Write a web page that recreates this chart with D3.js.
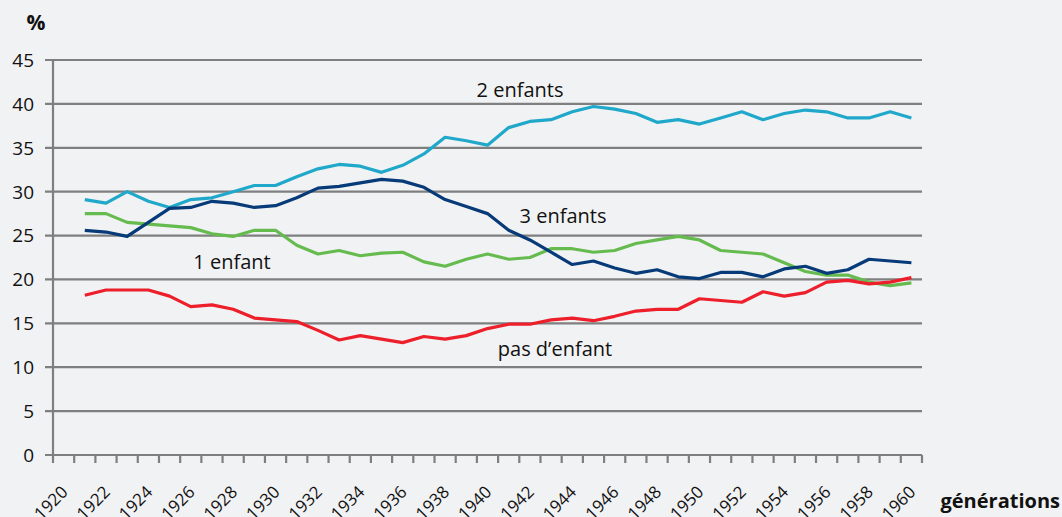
<!DOCTYPE html>
<html>
<head>
<meta charset="utf-8">
<script src="https://cdn.jsdelivr.net/npm/d3@7"></script>
<style>
  html, body { margin: 0; padding: 0; background: #f1f2f4; }
  svg { display: block; font-family: "Open Sans", "Noto Sans", sans-serif; }
</style>
</head>
<body>
<div id="chart"></div>
<script>
const years = d3.range(1920, 1961);
const dataYears = d3.range(1921, 1961);
const yTicks = [0, 5, 10, 15, 20, 25, 30, 35, 40, 45];

const deuxEnfants = [29.1, 28.7, 30.0, 28.9, 28.2, 29.1, 29.3, 30.0, 30.7, 30.7,
  31.7, 32.6, 33.1, 32.9, 32.2, 33.0, 34.3, 36.2, 35.8, 35.3,
  37.3, 38.0, 38.2, 39.1, 39.7, 39.4, 38.9, 37.9, 38.2, 37.7,
  38.4, 39.1, 38.2, 38.9, 39.3, 39.1, 38.4, 38.4, 39.1, 38.4];
const troisEnfants = [25.6, 25.4, 24.9, 26.5, 28.1, 28.2, 28.9, 28.7, 28.2, 28.4,
  29.3, 30.4, 30.6, 31.0, 31.4, 31.2, 30.5, 29.1, 28.3, 27.5,
  25.6, 24.5, 23.1, 21.7, 22.1, 21.3, 20.7, 21.1, 20.3, 20.1,
  20.8, 20.8, 20.3, 21.2, 21.5, 20.7, 21.1, 22.3, 22.1, 21.9];
const unEnfant = [27.5, 27.5, 26.5, 26.3, 26.1, 25.9, 25.2, 24.9, 25.6, 25.6,
  23.9, 22.9, 23.3, 22.7, 23.0, 23.1, 22.0, 21.5, 22.3, 22.9,
  22.3, 22.5, 23.5, 23.5, 23.1, 23.3, 24.1, 24.5, 24.9, 24.5,
  23.3, 23.1, 22.9, 21.9, 20.9, 20.5, 20.5, 19.7, 19.3, 19.6];
const pasEnfant = [18.2, 18.8, 18.8, 18.8, 18.1, 16.9, 17.1, 16.6, 15.6, 15.4,
  15.2, 14.2, 13.1, 13.6, 13.2, 12.8, 13.5, 13.2, 13.6, 14.4,
  14.9, 14.9, 15.4, 15.6, 15.3, 15.8, 16.4, 16.6, 16.6, 17.8,
  17.6, 17.4, 18.6, 18.1, 18.5, 19.7, 19.9, 19.5, 19.7, 20.2];

const series = [
  { name: "2 enfants", values: deuxEnfants, color: "#20a8ca", lx: 520, ly: 97 },
  { name: "1 enfant", values: unEnfant, color: "#66bb4f", lx: 232, ly: 269 },
  { name: "3 enfants", values: troisEnfants, color: "#063a78", lx: 563, ly: 223 },
  { name: "pas d\u2019enfant", values: pasEnfant, color: "#ec1f2a", lx: 555, ly: 356 },
];

const W = 1062, H = 517;
const plotLeft = 53, plotRight = 922, plotTop = 60, plotBottom = 455;

const svg = d3.select("#chart").append("svg")
  .attr("width", W).attr("height", H);

const x = d3.scaleBand().domain(years).range([plotLeft, plotRight]);
const y = d3.scaleLinear().domain([0, 45]).range([plotBottom, plotTop]);

// gridlines
svg.append("g")
  .selectAll("line")
  .data(yTicks)
  .join("line")
  .attr("x1", plotLeft - 8).attr("x2", plotRight)
  .attr("y1", d => y(d)).attr("y2", d => y(d))
  .attr("stroke", "#7f7f7f")
  .attr("stroke-width", 2.2);

// y axis line
svg.append("line")
  .attr("x1", plotLeft).attr("x2", plotLeft)
  .attr("y1", y(45)).attr("y2", y(0))
  .attr("stroke", "#7f7f7f").attr("stroke-width", 2.2);

// y labels
svg.append("g")
  .selectAll("text")
  .data(yTicks)
  .join("text")
  .attr("x", 34).attr("y", d => y(d))
  .attr("dy", "0.36em")
  .attr("text-anchor", "end")
  .attr("font-size", "19px")
  .attr("fill", "#111")
  .text(d => d);

// x ticks (between categories)
const tickPos = years.map(yr => x(yr)).concat([plotRight]);
svg.append("g")
  .selectAll("line")
  .data(tickPos)
  .join("line")
  .attr("x1", d => d).attr("x2", d => d)
  .attr("y1", plotBottom).attr("y2", plotBottom + 8)
  .attr("stroke", "#7f7f7f").attr("stroke-width", 2.2);

// x labels every 2 years
svg.append("g")
  .selectAll("text")
  .data(years.filter(yr => yr % 2 === 0))
  .join("text")
  .attr("transform", d => `translate(${x(d) + x.bandwidth() / 2 + 1},${plotBottom + 34}) rotate(-45)`)
  .attr("text-anchor", "end")
  .attr("dy", "0.35em")
  .attr("font-size", "17px")
  .attr("fill", "#111")
  .text(d => d);

// lines
const line = d3.line()
  .x((d, i) => x(dataYears[i]) + x.bandwidth() / 2)
  .y(d => y(d));

svg.append("g")
  .selectAll("path")
  .data(series)
  .join("path")
  .attr("d", d => line(d.values))
  .attr("fill", "none")
  .attr("stroke", d => d.color)
  .attr("stroke-width", 3.2)
  .attr("stroke-linejoin", "round");

// series labels
svg.append("g")
  .selectAll("text")
  .data(series)
  .join("text")
  .attr("x", d => d.lx).attr("y", d => d.ly)
  .attr("text-anchor", "middle")
  .attr("font-size", "20px")
  .attr("fill", "#111")
  .text(d => d.name);

svg.append("text")
  .attr("x", 36).attr("y", 30)
  .attr("text-anchor", "middle")
  .attr("font-size", "21px").attr("font-weight", "bold")
  .attr("fill", "#111")
  .text("%");

svg.append("text")
  .attr("x", 1060).attr("y", 508)
  .attr("text-anchor", "end")
  .attr("font-size", "20px").attr("font-weight", "bold")
  .attr("fill", "#111")
  .text("générations");
</script>
</body>
</html>
